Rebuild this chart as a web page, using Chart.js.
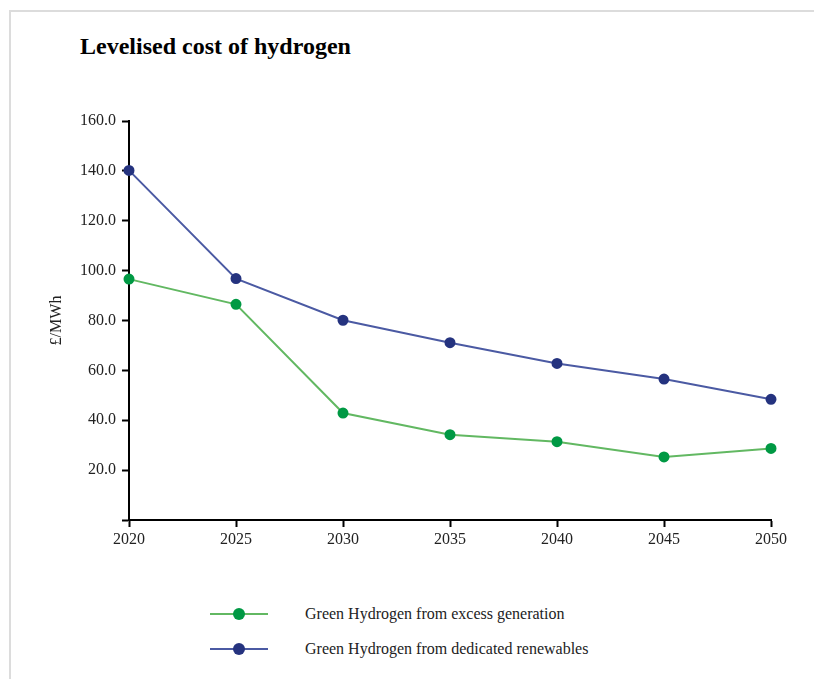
<!DOCTYPE html>
<html>
<head>
<meta charset="utf-8">
<title>Levelised cost of hydrogen</title>
<script src="https://cdn.jsdelivr.net/npm/chart.js@4.4.0/dist/chart.umd.min.js"></script>
<style>
    html, body {
        margin: 0;
        padding: 0;
        background: #fff;
        width: 814px;
        height: 679px;
        overflow: hidden;
        font-family: "Liberation Serif", "Times New Roman", serif;
    }
    .frame {
        position: absolute;
        left: 9px;
        top: 10px;
        width: 820px;
        height: 700px;
        border: 2px solid #dcdcdc;
        box-sizing: border-box;
    }
    .title {
        position: absolute;
        left: 80px;
        top: 33px;
        font-size: 24px;
        font-weight: bold;
        color: #000;
        white-space: nowrap;
    }
    .chart-box {
        position: absolute;
        left: 40px;
        top: 100px;
        width: 760px;
        height: 460px;
    }
    .legend {
        position: absolute;
        left: 210px;
        top: 596px;
    }
    .legend-row {
        display: flex;
        align-items: center;
        height: 35px;
        font-size: 16px;
        color: #222;
        white-space: nowrap;
    }
    .legend-mark {
        position: relative;
        width: 58px;
        height: 12px;
        margin-right: 37px;
    }
    .legend-mark .ln {
        position: absolute;
        left: 0;
        right: 0;
        top: 5px;
        height: 2px;
    }
    .legend-mark .dot {
        position: absolute;
        left: 23px;
        top: 0;
        width: 12px;
        height: 12px;
        border-radius: 50%;
    }
</style>
</head>
<body>
<div class="frame"></div>
<div class="title">Levelised cost of hydrogen</div>
<div class="chart-box"><canvas id="lcohChart"></canvas></div>
<div class="legend" id="lcohLegend"></div>

<script>
// years on the x axis
const years = ['2020', '2025', '2030', '2035', '2040', '2045', '2050'];

// £/MWh
const excessGeneration = [96.6, 86.5, 42.9, 34.2, 31.4, 25.3, 28.7];
const dedicatedRenewables = [140.2, 96.8, 80.1, 71.1, 62.8, 56.5, 48.4];

const seriesLabels = [
    'Green Hydrogen from excess generation',
    'Green Hydrogen from dedicated renewables'
];

const yTicks = [0, 20, 40, 60, 80, 100, 120, 140, 160];

const fontFamily = '"Liberation Serif", "Times New Roman", serif';

const ctx = document.getElementById('lcohChart');

const chart = new Chart(ctx, {
    type: 'line',
    data: {
        labels: years,
        datasets: [
            {
                label: seriesLabels[0],
                data: excessGeneration,
                borderColor: '#62b862',
                backgroundColor: '#009944',
                pointBackgroundColor: '#009944',
                pointBorderColor: '#009944',
                borderWidth: 2,
                pointRadius: 4.5,
                tension: 0
            },
            {
                label: seriesLabels[1],
                data: dedicatedRenewables,
                borderColor: '#4b5aa3',
                backgroundColor: '#25337f',
                pointBackgroundColor: '#25337f',
                pointBorderColor: '#25337f',
                borderWidth: 2,
                pointRadius: 4.5,
                tension: 0
            }
        ]
    },
    options: {
        responsive: true,
        maintainAspectRatio: false,
        animation: false,
        layout: {
            padding: { top: 21, right: 29, bottom: 0, left: 0 }
        },
        plugins: {
            legend: { display: false },
            tooltip: { enabled: false }
        },
        scales: {
            x: {
                offset: false,
                grid: {
                    drawOnChartArea: false,
                    drawTicks: true,
                    tickLength: 7,
                    tickWidth: 2,
                    color: '#000'
                },
                border: { display: true, color: '#000', width: 2 },
                ticks: {
                    color: '#222',
                    padding: 3,
                    maxRotation: 0,
                    font: { family: fontFamily, size: 16 }
                },
                afterFit: function(scale) {
                    scale.height = 40;
                }
            },
            y: {
                min: 0,
                max: 160,
                afterBuildTicks: function(scale) {
                    scale.ticks = yTicks.map(v => ({ value: v }));
                },
                grid: {
                    drawOnChartArea: false,
                    drawTicks: true,
                    tickLength: 7,
                    tickWidth: 2,
                    color: '#000'
                },
                border: { display: true, color: '#000', width: 2 },
                ticks: {
                    color: '#222',
                    padding: 6,
                    font: { family: fontFamily, size: 16 },
                    callback: function(value) {
                        return value === 0 ? '' : value.toFixed(1);
                    }
                },
                title: {
                    display: true,
                    text: '£/MWh',
                    color: '#222',
                    padding: { top: 7, bottom: 0 },
                    font: { family: fontFamily, size: 16 }
                },
                afterFit: function(scale) {
                    scale.width = 89;
                }
            }
        }
    }
});

// legend with line + dot markers built from the datasets
const legendEl = document.getElementById('lcohLegend');
chart.data.datasets.forEach(ds => {
    const row = document.createElement('div');
    row.className = 'legend-row';
    row.innerHTML =
        '<span class="legend-mark">' +
        '<span class="ln" style="background:' + ds.borderColor + '"></span>' +
        '<span class="dot" style="background:' + ds.pointBackgroundColor + '"></span>' +
        '</span><span>' + ds.label + '</span>';
    legendEl.appendChild(row);
});
</script>
</body>
</html>
